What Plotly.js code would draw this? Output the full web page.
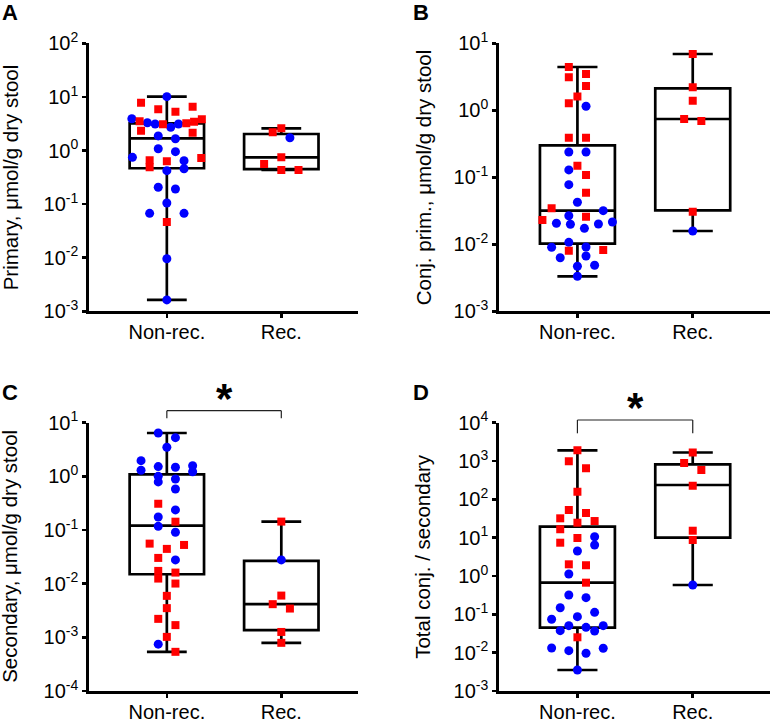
<!DOCTYPE html>
<html><head><meta charset="utf-8">
<script src="https://cdn.plot.ly/plotly-3.0.1.min.js"></script>
<style>html,body{margin:0;padding:0;background:#fff}</style>
</head><body><div id="chart" style="width:771px;height:720px"></div>
<script>
// ---------------- DATA ----------------
const categories = ['Non-rec.', 'Rec.'];
const panelLetters = ['A', 'B', 'C', 'D'];
const yTitles = ['Primary, μmol/g dry stool', 'Conj. prim., μmol/g dry stool',
                 'Secondary, μmol/g dry stool', 'Total conj. / secondary'];
const yDecades = [[-3, 2], [-3, 1], [-4, 1], [-3, 4]];

// Panel A: Primary
const A_nonrec_blue = [10.1, 3.92, 3.12, 3.30, 3.12, 2.71, 1.87, 1.66, 0.95, 1.08, 0.645, 0.746, 0.42, 0.457, 0.206, 0.191, 0.105, 0.0673, 0.0673, 0.00957, 0.00163];
const A_nonrec_red  = [6.56, 7.80, 5.30, 5.87, 3.82, 3.51, 3.45, 3.21, 2.34, 2.15, 0.724, 0.656, 0.630, 0.486, 0.0463, 3.08];
const A_rec_blue    = [1.73];
const A_rec_red     = [2.59, 2.19, 0.746, 0.560, 0.433, 0.433];
// box stats: [min, q1, median, q3, max]
const A_nonrec_box  = [0.00163, 0.466, 1.69, 3.2, 10.1];
const A_rec_box     = [0.433, 0.45, 0.746, 2.03, 2.59];

// Panel B: Conj. prim.
const B_nonrec_blue = [1.15, 0.239, 0.239, 0.129, 0.0776, 0.0424, 0.0267, 0.0318, 0.0201, 0.0206, 0.0173, 0.0199, 0.0215, 0.0107, 0.00912, 0.00902, 0.00631, 0.00668, 0.00486, 0.0047, 0.00333];
const B_nonrec_red  = [4.43, 3.11, 3.48, 2.31, 1.60, 1.27, 0.390, 0.390, 0.149, 0.108, 0.059, 0.0344, 0.0231, 0.0258, 0.00804, 0.00822];
const B_rec_blue    = [0.0158];
const B_rec_red     = [6.92, 2.20, 1.39, 0.741, 0.692, 0.0307];
const B_nonrec_box  = [0.00333, 0.0102, 0.0318, 0.30, 4.43];
const B_rec_box     = [0.0158, 0.0321, 0.741, 2.13, 6.92];

// Panel C: Secondary
const C_nonrec_blue = [6.43, 5.26, 3.48, 1.58, 1.30, 1.48, 1.96, 1.22, 1.52, 0.895, 1.00, 0.787, 0.582, 0.237, 0.175, 0.117, 0.091, 0.0277, 0.000746];
const C_nonrec_red  = [0.310, 0.143, 0.0558, 0.0527, 0.0445, 0.0302, 0.0161, 0.0173, 0.01245, 0.01005, 0.00593, 0.0035, 0.00221, 0.00169, 0.00102, 0.000537];
const C_rec_blue    = [0.0277];
const C_rec_red     = [0.1435, 0.0060, 0.00415, 0.00344, 0.00126, 0.00079];
const C_nonrec_box  = [0.000537, 0.015, 0.121, 1.09, 6.43];
const C_rec_box     = [0.00079, 0.00136, 0.00415, 0.0266, 0.1435];

// Panel D: Total conj. / secondary
const D_nonrec_blue = [10.6, 4.50, 6.44, 1.13, 0.272, 0.320, 0.113, 0.149, 0.0743, 0.0869, 0.0506, 0.0459, 0.0506, 0.0375, 0.0368, 0.0132, 0.01127, 0.0130, 0.00964, 0.00353];
const D_nonrec_red  = [1900, 984, 646, 158, 44.1, 24.6, 52.7, 32.0, 27.2, 16.6, 9.82, 7.40, 1.91, 2.02, 0.67, 0.0252];
const D_rec_blue    = [0.583];
const D_rec_red     = [1670, 889, 583, 227, 15.2, 8.71];
const D_nonrec_box  = [0.00353, 0.0449, 0.67, 19.4, 1900];
const D_rec_box     = [0.583, 10, 237, 820, 1670];

// significance marks (panel index, label)
const sigPanels = [2, 3];
const sigLabels = ['*', '*'];

// ---------------- LAYOUT GEOMETRY ----------------
const W = 771, H = 720;
const XR = [-0.68, 1.67];
// plot rectangles in px [left, right, top, bottom]
const rects = [[89, 358, 43.3, 311.3], [499, 770, 43.3, 311.3],
               [89, 358, 422.7, 691], [499, 770, 422.7, 691]];
const FONT = 'Liberation Sans, Arial, Helvetica, sans-serif';
const BLUE = '#0000ff', RED = '#ff0000';

const panelData = [
  [A_nonrec_blue, A_nonrec_red, A_rec_blue, A_rec_red, A_nonrec_box, A_rec_box],
  [B_nonrec_blue, B_nonrec_red, B_rec_blue, B_rec_red, B_nonrec_box, B_rec_box],
  [C_nonrec_blue, C_nonrec_red, C_rec_blue, C_rec_red, C_nonrec_box, C_rec_box],
  [D_nonrec_blue, D_nonrec_red, D_rec_blue, D_rec_red, D_nonrec_box, D_rec_box]
];

// row-based scatter spreading (like a column scatter plot), offsets in x data units
function swarm(values, pxPerDecade, pxPerUnit) {
  const rowH = 9, maxStep = 17.2, maxSpan = 70;
  const pts = values.map((v, i) => ({ i, y: Math.log10(v) * pxPerDecade }));
  pts.sort((a, b) => a.y - b.y); // bottom first
  const off = new Array(values.length).fill(0);
  let j = 0;
  while (j < pts.length) {
    const start = pts[j].y;
    const row = [];
    while (j < pts.length && pts[j].y - start <= rowH) { row.push(pts[j]); j++; }
    const n = row.length;
    const s = n > 1 ? Math.min(maxStep, maxSpan / (n - 1)) : 0;
    const slots = [];
    for (let k = 0; k < n; k++) slots.push((k - (n - 1) / 2) * s);
    slots.sort((a, b) => Math.abs(a) - Math.abs(b) || b - a);
    row.forEach((p, k) => { off[p.i] = slots[k] / pxPerUnit; });
  }
  return off;
}

const traces = [];
const layout = {
  width: W, height: H, autosize: false,
  margin: { l: 0, r: 0, t: 0, b: 0, pad: 0 },
  paper_bgcolor: '#fff', plot_bgcolor: '#fff',
  showlegend: false,
  font: { family: FONT, size: 20, color: '#000' },
  annotations: [], shapes: []
};

const px2x = px => px / W;
const px2y = py => 1 - py / H;

panelData.forEach((pd, p) => {
  const [nb, nr, rb, rr, nbox, rbox] = pd;
  const sfx = p === 0 ? '' : String(p + 1);
  const xa = 'x' + sfx, ya = 'y' + sfx;
  const [l, r, t, b] = rects[p];
  const [d0, d1] = yDecades[p];
  const pxPerDecade = (b - t) / (d1 - d0);
  const pxPerUnit = (r - l) / (XR[1] - XR[0]);

  // boxes
  traces.push({
    type: 'box', xaxis: xa, yaxis: ya, x: [0, 1],
    lowerfence: [nbox[0], rbox[0]], q1: [nbox[1], rbox[1]], median: [nbox[2], rbox[2]],
    q3: [nbox[3], rbox[3]], upperfence: [nbox[4], rbox[4]],
    boxpoints: false, width: 0.65, whiskerwidth: 0.535,
    line: { color: '#000', width: 2.7 }, fillcolor: 'rgba(0,0,0,0)', hoverinfo: 'skip'
  });

  // points
  const groups = [[nb, nr], [rb, rr]];
  const bx = [], by = [], rx = [], ry = [];
  groups.forEach(([blue, red], gi) => {
    const all = blue.concat(red);
    const off = swarm(all, pxPerDecade, pxPerUnit);
    all.forEach((v, i) => {
      if (i < blue.length) { bx.push(gi + off[i]); by.push(v); }
      else { rx.push(gi + off[i]); ry.push(v); }
    });
  });
  traces.push({ type: 'scatter', mode: 'markers', xaxis: xa, yaxis: ya, x: bx, y: by,
    marker: { color: BLUE, size: 9, symbol: 'circle', line: { width: 0 } }, hoverinfo: 'skip' });
  traces.push({ type: 'scatter', mode: 'markers', xaxis: xa, yaxis: ya, x: rx, y: ry,
    marker: { color: RED, size: 8, symbol: 'square', line: { width: 0 } }, hoverinfo: 'skip' });

  const tv = [], tt = [];
  for (let e = d0; e <= d1; e++) { tv.push(Math.pow(10, e)); tt.push('10<sup>' + e + '</sup>'); }

  layout['xaxis' + sfx] = {
    domain: [px2x(l), px2x(r)], anchor: ya, range: XR, fixedrange: true,
    tickvals: [0, 1], ticktext: categories, ticks: 'outside', ticklen: 4, tickwidth: 2.5,
    ticklabelstandoff: -3,
    tickcolor: '#000', showline: true, linecolor: '#000', linewidth: 2.7,
    showgrid: false, zeroline: false, tickfont: { family: FONT, size: 20, color: '#000' }
  };
  layout['yaxis' + sfx] = {
    domain: [px2y(b), px2y(t)], anchor: xa, type: 'log', range: [d0, d1], fixedrange: true,
    tickvals: tv, ticktext: tt, ticks: 'outside', ticklen: 4, tickwidth: 2.5,
    tickcolor: '#000', showline: true, linecolor: '#000', linewidth: 2.7,
    showgrid: false, zeroline: false, tickfont: { family: FONT, size: 20, color: '#000' }
  };

  // y title
  layout.annotations.push({
    xref: 'paper', yref: 'paper', x: px2x(p % 2 === 0 ? 10 : 423), y: px2y((t + b) / 2),
    text: yTitles[p], textangle: -90, showarrow: false, xanchor: 'center', yanchor: 'middle',
    font: { family: FONT, size: 20.5, color: '#000' }
  });
  // panel letter
  layout.annotations.push({
    xref: 'paper', yref: 'paper', x: px2x(p % 2 === 0 ? 0 : 411), y: px2y(p < 2 ? -2 : 378),
    text: '<b>' + panelLetters[p] + '</b>', showarrow: false, xanchor: 'left', yanchor: 'top',
    font: { family: FONT, size: 22, color: '#000' }
  });
});

// significance brackets
const bracketPx = { 2: [410.7, 418.3, 398], 3: [420, 433.3, 407] };
sigPanels.forEach((p, k) => {
  const sfx = String(p + 1);
  const [yh, yl, ys] = bracketPx[p];
  const base = { xref: 'x' + sfx, yref: 'paper', type: 'line', line: { color: '#222', width: 1.2 } };
  layout.shapes.push(Object.assign({}, base, { x0: 0, x1: 1, y0: px2y(yh), y1: px2y(yh) }));
  layout.shapes.push(Object.assign({}, base, { x0: 0, x1: 0, y0: px2y(yh), y1: px2y(yl) }));
  layout.shapes.push(Object.assign({}, base, { x0: 1, x1: 1, y0: px2y(yh), y1: px2y(yl) }));
  layout.annotations.push({
    xref: 'x' + sfx, yref: 'paper', x: 0.5, y: px2y(ys), text: '<b>' + sigLabels[k] + '</b>',
    showarrow: false, xanchor: 'center', yanchor: 'middle',
    font: { family: FONT, size: 42, color: '#000' }
  });
});

Plotly.newPlot('chart', traces, layout, { staticPlot: true, displayModeBar: false });
</script>
</body></html>
